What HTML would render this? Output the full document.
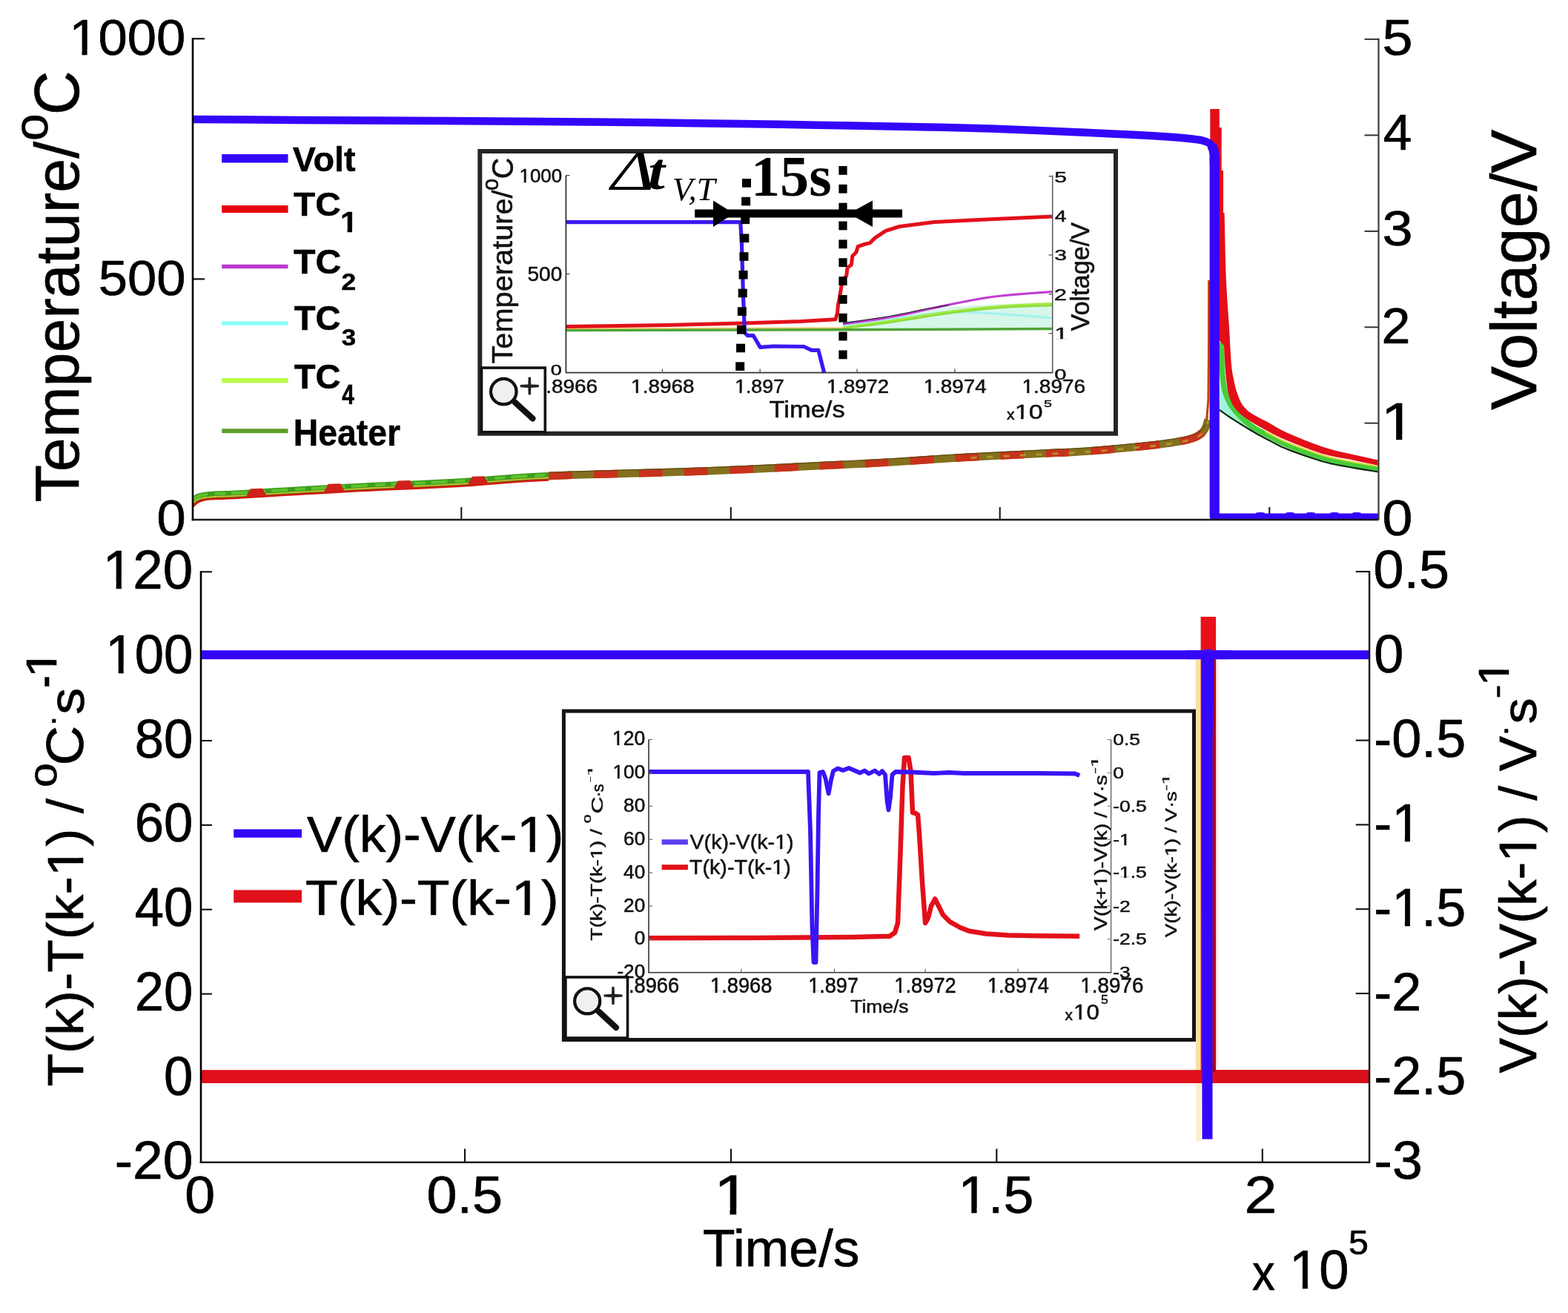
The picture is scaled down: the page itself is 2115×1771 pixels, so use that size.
<!DOCTYPE html>
<html><head><meta charset="utf-8"><title>Plot</title><style>html,body{margin:0;padding:0;background:#fff;overflow:hidden}svg{display:block}</style></head><body>
<svg xmlns="http://www.w3.org/2000/svg" width="2115" height="1771" viewBox="0 0 2115 1771">
<rect x="0" y="0" width="2115" height="1771" fill="#fff"/>
<line x1="260" y1="52.2" x2="276" y2="52.2" stroke="#111" stroke-width="2.2"/>
<line x1="260" y1="376.4" x2="276" y2="376.4" stroke="#111" stroke-width="2.2"/>
<line x1="1840.5" y1="52.9" x2="1859.5" y2="52.9" stroke="#333" stroke-width="2"/>
<line x1="1840.5" y1="182.4" x2="1859.5" y2="182.4" stroke="#333" stroke-width="2"/>
<line x1="1840.5" y1="311.9" x2="1859.5" y2="311.9" stroke="#333" stroke-width="2"/>
<line x1="1840.5" y1="441.3" x2="1859.5" y2="441.3" stroke="#333" stroke-width="2"/>
<line x1="1840.5" y1="570.7" x2="1859.5" y2="570.7" stroke="#333" stroke-width="2"/>
<line x1="622.3" y1="684" x2="622.3" y2="701" stroke="#111" stroke-width="2"/>
<line x1="985.8" y1="684" x2="985.8" y2="701" stroke="#111" stroke-width="2"/>
<line x1="1348.7" y1="684" x2="1348.7" y2="701" stroke="#111" stroke-width="2"/>
<line x1="1712.3" y1="684" x2="1712.3" y2="701" stroke="#111" stroke-width="2"/>
<line x1="271" y1="771.3" x2="286" y2="771.3" stroke="#111" stroke-width="2.1"/>
<line x1="271" y1="885.16" x2="286" y2="885.16" stroke="#111" stroke-width="2.1"/>
<line x1="271" y1="999.02" x2="286" y2="999.02" stroke="#111" stroke-width="2.1"/>
<line x1="271" y1="1112.88" x2="286" y2="1112.88" stroke="#111" stroke-width="2.1"/>
<line x1="271" y1="1226.74" x2="286" y2="1226.74" stroke="#111" stroke-width="2.1"/>
<line x1="271" y1="1340.6" x2="286" y2="1340.6" stroke="#111" stroke-width="2.1"/>
<line x1="271" y1="1454.46" x2="286" y2="1454.46" stroke="#111" stroke-width="2.1"/>
<line x1="1828.7" y1="771" x2="1847.1" y2="771" stroke="#111" stroke-width="2.1"/>
<line x1="1828.7" y1="884.8" x2="1847.1" y2="884.8" stroke="#111" stroke-width="2.1"/>
<line x1="1828.7" y1="998.6" x2="1847.1" y2="998.6" stroke="#111" stroke-width="2.1"/>
<line x1="1828.7" y1="1112.4" x2="1847.1" y2="1112.4" stroke="#111" stroke-width="2.1"/>
<line x1="1828.7" y1="1226.2" x2="1847.1" y2="1226.2" stroke="#111" stroke-width="2.1"/>
<line x1="1828.7" y1="1340" x2="1847.1" y2="1340" stroke="#111" stroke-width="2.1"/>
<line x1="1828.7" y1="1453.8" x2="1847.1" y2="1453.8" stroke="#111" stroke-width="2.1"/>
<line x1="627" y1="1549.5" x2="627" y2="1567.8" stroke="#111" stroke-width="2.1"/>
<line x1="986" y1="1549.5" x2="986" y2="1567.8" stroke="#111" stroke-width="2.1"/>
<line x1="1344.3" y1="1549.5" x2="1344.3" y2="1567.8" stroke="#111" stroke-width="2.1"/>
<line x1="1702.8" y1="1549.5" x2="1702.8" y2="1567.8" stroke="#111" stroke-width="2.1"/>
<clipPath id="cpTop"><rect x="260.5" y="0" width="1598" height="700"/></clipPath>
<g clip-path="url(#cpTop)">
<polyline points="260,682 260.62,681.41 261.44,680.59 262.44,679.61 263.56,678.59 264.76,677.62 266,676.78 267.26,676.09 268.56,675.45 269.94,674.87 271.44,674.31 273.12,673.76 275,673.2 277.01,672.89 279.11,672.61 281.38,672.36 283.89,672.13 286.74,671.91 290,671.7 293.16,671.55 296.04,671.48 299.25,671.42 303.41,671.31 309.12,671.09 317,670.7 327.4,670.1 339.89,669.35 353.94,668.48 369,667.55 384.53,666.61 400,665.7 415.49,664.81 431.44,663.9 447.88,662.98 464.78,662.05 482.15,661.12 500,660.2 518.45,659.32 537.52,658.48 557.06,657.64 576.93,656.76 596.96,655.79 617,654.7 636.15,653.43 654.33,652.01 672.69,650.51 692.33,649 714.4,647.54 740,646.2" fill="none" stroke="#d01a10" stroke-width="5" stroke-linejoin="round" stroke-linecap="butt"/>
<polyline points="260,675.5 260.62,674.99 261.44,674.26 262.44,673.41 263.56,672.52 264.76,671.69 266,671 267.26,670.46 268.56,669.98 269.94,669.56 271.44,669.19 273.12,668.84 275,668.5 277.01,668.19 279.11,667.91 281.38,667.66 283.89,667.43 286.74,667.21 290,667 293.16,666.85 296.04,666.78 299.25,666.72 303.41,666.61 309.12,666.39 317,666 327.4,665.4 339.89,664.65 353.94,663.78 369,662.85 384.53,661.91 400,661 415.49,660.11 431.44,659.2 447.88,658.28 464.78,657.35 482.15,656.42 500,655.5 518.45,654.62 537.52,653.78 557.06,652.94 576.93,652.06 596.96,651.09 617,650 636.15,648.73 654.33,647.31 672.69,645.81 692.33,644.3 714.4,642.84 740,641.5" fill="none" stroke="#3d9c1e" stroke-width="9" stroke-linejoin="round" stroke-linecap="butt"/>
<polyline points="260,674.5 260.62,673.99 261.44,673.26 262.44,672.41 263.56,671.52 264.76,670.69 266,670 267.26,669.46 268.56,668.98 269.94,668.56 271.44,668.19 273.12,667.84 275,667.5 277.01,667.19 279.11,666.91 281.38,666.66 283.89,666.43 286.74,666.21 290,666 293.16,665.85 296.04,665.78 299.25,665.72 303.41,665.61 309.12,665.39 317,665 327.4,664.4 339.89,663.65 353.94,662.78 369,661.85 384.53,660.91 400,660 415.49,659.11 431.44,658.2 447.88,657.28 464.78,656.35 482.15,655.42 500,654.5 518.45,653.62 537.52,652.78 557.06,651.94 576.93,651.06 596.96,650.09 617,649 636.15,647.73 654.33,646.31 672.69,644.81 692.33,643.3 714.4,641.84 740,640.5" fill="none" stroke="#5cc22c" stroke-width="4" stroke-linejoin="round" stroke-linecap="butt" stroke-dasharray="22 10 14 8"/>
<polyline points="260,678.4 260.62,677.89 261.44,677.16 262.44,676.31 263.56,675.42 264.76,674.59 266,673.9 267.26,673.36 268.56,672.88 269.94,672.46 271.44,672.09 273.12,671.74 275,671.4 277.01,671.09 279.11,670.81 281.38,670.56 283.89,670.33 286.74,670.11 290,669.9 293.16,669.75 296.04,669.68 299.25,669.62 303.41,669.51 309.12,669.29 317,668.9 327.4,668.3 339.89,667.55 353.94,666.68 369,665.75 384.53,664.81 400,663.9 415.49,663.01 431.44,662.1 447.88,661.18 464.78,660.25 482.15,659.32 500,658.4 518.45,657.52 537.52,656.68 557.06,655.84 576.93,654.96 596.96,653.99 617,652.9 636.15,651.63 654.33,650.21 672.69,648.71 692.33,647.2 714.4,645.74 740,644.4" fill="none" stroke="#d8c030" stroke-width="1.6" stroke-linejoin="round" stroke-linecap="butt"/>
<polygon points="332,669.78 338,659.28 354,658.78 360,669.28" fill="#d0201a"/>
<polygon points="437,663.35 443,652.85 459,652.35 465,662.85" fill="#d0201a"/>
<polygon points="531,658.94 537,648.44 553,647.94 559,658.44" fill="#d0201a"/>
<polygon points="631,653.31 637,642.81 653,642.31 659,652.81" fill="#d0201a"/>
<polyline points="740,642 770.66,640.81 805.78,639.7 843.31,638.66 881.22,637.63 917.47,636.59 950,635.5 979.05,634.34 1006.3,633.13 1031.88,631.91 1055.93,630.7 1078.59,629.56 1100,628.5 1119.65,627.56 1137.33,626.72 1153.62,625.94 1169.11,625.17 1184.38,624.37 1200,623.5 1215.61,622.55 1230.67,621.56 1245.5,620.53 1260.44,619.5 1275.83,618.48 1292,617.5 1309.54,616.53 1328.3,615.56 1347.5,614.59 1366.37,613.67 1384.13,612.8 1400,612 1413.49,611.35 1425.11,610.83 1435.62,610.38 1445.78,609.89 1456.32,609.29 1468,608.5 1481.34,607.46 1495.85,606.22 1510.75,604.88 1525.26,603.5 1538.6,602.18 1550,601 1559.34,599.96 1567.22,598.98 1573.94,598.06 1579.78,597.19 1585.03,596.34 1590,595.5 1594.47,594.71 1598.19,593.98 1601.31,593.28 1604.04,592.57 1606.54,591.83 1609,591 1611.35,590.11 1613.44,589.19 1615.31,588.22 1617,587.2 1618.55,586.13 1620,585 1621.32,583.82 1622.46,582.59 1623.47,581.31 1624.37,579.96 1625.2,578.53 1626,577 1626.77,575.21 1627.48,573.15 1628.12,571 1628.69,568.96 1629.15,567.23 1629.5,566" fill="none" stroke="#85701e" stroke-width="10.5" stroke-linejoin="round" stroke-linecap="butt"/>
<polyline points="740,642 770.66,640.81 805.78,639.7 843.31,638.66 881.22,637.63 917.47,636.59 950,635.5 979.05,634.34 1006.3,633.13 1031.88,631.91 1055.93,630.7 1078.59,629.56 1100,628.5 1119.65,627.56 1137.33,626.72 1153.62,625.94 1169.11,625.17 1184.38,624.37 1200,623.5 1215.61,622.55 1230.67,621.56 1245.5,620.53 1260.44,619.5 1275.83,618.48 1292,617.5 1309.54,616.53 1328.3,615.56 1347.5,614.59 1366.37,613.67 1384.13,612.8 1400,612 1413.49,611.35 1425.11,610.83 1435.62,610.38 1445.78,609.89 1456.32,609.29 1468,608.5 1481.34,607.46 1495.85,606.22 1510.75,604.88 1525.26,603.5 1538.6,602.18 1550,601 1559.34,599.96 1567.22,598.98 1573.94,598.06 1579.78,597.19 1585.03,596.34 1590,595.5 1594.47,594.71 1598.19,593.98 1601.31,593.28 1604.04,592.57 1606.54,591.83 1609,591 1611.35,590.11 1613.44,589.19 1615.31,588.22 1617,587.2 1618.55,586.13 1620,585 1621.32,583.82 1622.46,582.59 1623.47,581.31 1624.37,579.96 1625.2,578.53 1626,577 1626.77,575.21 1627.48,573.15 1628.12,571 1628.69,568.96 1629.15,567.23 1629.5,566" fill="none" stroke="#c8321c" stroke-width="10.5" stroke-linejoin="round" stroke-linecap="butt" stroke-dasharray="32 29"/>
<polyline points="740,637.4 770.66,636.21 805.78,635.1 843.31,634.06 881.22,633.03 917.47,631.99 950,630.9 979.05,629.74 1006.3,628.53 1031.88,627.31 1055.93,626.1 1078.59,624.96 1100,623.9 1119.65,622.96 1137.33,622.12 1153.62,621.34 1169.11,620.57 1184.38,619.77 1200,618.9 1215.61,617.95 1230.67,616.96 1245.5,615.93 1260.44,614.9 1275.83,613.88 1292,612.9 1309.54,611.93 1328.3,610.96 1347.5,609.99 1366.37,609.07 1384.13,608.2 1400,607.4 1413.49,606.75 1425.11,606.23 1435.62,605.77 1445.78,605.29 1456.32,604.69 1468,603.9 1481.34,602.86 1495.85,601.62 1510.75,600.27 1525.26,598.9 1538.6,597.58 1550,596.4 1559.34,595.36 1567.22,594.38 1573.94,593.46 1579.78,592.59 1585.03,591.74 1590,590.9 1594.47,590.11 1598.19,589.38 1601.31,588.68 1604.04,587.97 1606.54,587.23 1609,586.4 1611.35,585.51 1613.44,584.59 1615.31,583.62 1617,582.6 1618.55,581.53 1620,580.4 1621.32,579.22 1622.46,577.99 1623.47,576.71 1624.37,575.36 1625.2,573.93 1626,572.4 1626.77,570.61 1627.48,568.55 1628.12,566.4 1628.69,564.36 1629.15,562.63 1629.5,561.4" fill="none" stroke="#5a4a10" stroke-width="1.4" stroke-linejoin="round" stroke-linecap="butt" opacity="0.8"/>
<polyline points="1309.54,617.53 1328.3,616.56 1347.5,615.59 1366.37,614.67 1384.13,613.8 1400,613 1413.49,612.35 1425.11,611.83 1435.62,611.38 1445.78,610.89 1456.32,610.29 1468,609.5 1481.34,608.46 1495.85,607.22 1510.75,605.88 1525.26,604.5 1538.6,603.18 1550,602 1559.34,600.96 1567.22,599.98 1573.94,599.06 1579.78,598.19 1585.03,597.34 1590,596.5 1594.47,595.71 1598.19,594.98 1601.31,594.28 1604.04,593.57 1606.54,592.83 1609,592 1611.35,591.11 1613.44,590.19 1615.31,589.22 1617,588.2 1618.55,587.13 1620,586 1621.32,584.82 1622.46,583.59 1623.47,582.31 1624.37,580.96 1625.2,579.53 1626,578 1626.77,576.21 1627.48,574.15 1628.12,572 1628.69,569.96 1629.15,568.23 1629.5,567" fill="none" stroke="#b8a030" stroke-width="3" stroke-linejoin="round" stroke-linecap="butt" stroke-dasharray="8 14" opacity="0.8"/>
</g>
<polyline points="1627.5,567 1629.8,540 1630.4,480 1630.6,378" fill="none" stroke="#c2410e" stroke-width="3" stroke-linejoin="round" stroke-linecap="butt"/>
<defs><linearGradient id="mg" x1="0" y1="0" x2="1" y2="0"><stop offset="0" stop-color="#a6f4ee"/><stop offset="1" stop-color="#80ec90"/></linearGradient></defs>
<polygon points="1647.5,462 1647.63,469.16 1647.81,479.5 1648.09,490.59 1648.5,500 1649.03,507.12 1649.66,513.25 1650.46,518.75 1651.5,524 1652.8,529.02 1654.31,533.62 1656.05,537.92 1658,542 1660.02,545.68 1662.17,548.97 1664.73,552.28 1668,556 1672.16,560.43 1677.01,565.28 1682.31,570.12 1687.8,574.5 1693.55,578.27 1699.66,581.67 1694.12,584.43 1687.8,580.8 1680.8,576.6 1673.32,571.98 1666.13,567.44 1660,563.5 1655,560.15 1650.76,557.17 1647.4,554.73 1645,553" fill="url(#mg)"/>
<polyline points="1647.5,462 1647.63,469.16 1647.81,479.5 1648.09,490.59 1648.5,500 1649.03,507.12 1649.66,513.25 1650.46,518.75 1651.5,524 1652.8,529.02 1654.31,533.62 1656.05,537.92 1658,542 1660.02,545.68 1662.17,548.97 1664.73,552.28 1668,556 1672.16,560.43 1677.01,565.28 1682.31,570.12 1687.8,574.5 1693.55,578.27 1699.66,581.67 1705.89,584.86 1712,588 1717.37,590.94 1722.33,593.66 1728.01,596.5 1735.6,599.8 1746.11,603.97 1758.69,608.72 1771.67,613.36 1783.4,617.2 1793.29,619.95 1802.28,622.02 1810.97,623.75 1820,625.5 1830.41,627.44 1841.59,629.37 1851.62,631.03 1858.6,632.2" fill="none" stroke="#46cc3a" stroke-width="7.5" stroke-linejoin="round" stroke-linecap="butt"/>
<polyline points="1705.89,581.66 1712,584.8 1717.37,587.74 1722.33,590.46 1728.01,593.3 1735.6,596.6 1746.11,600.77 1758.69,605.52 1771.67,610.16 1783.4,614 1793.29,616.75 1802.28,618.82 1810.97,620.55 1820,622.3 1830.41,624.24 1841.59,626.17 1851.62,627.83 1858.6,629" fill="none" stroke="#d8d83a" stroke-width="2" stroke-linejoin="round" stroke-linecap="butt"/>
<polyline points="1645,553 1647.4,554.73 1650.76,557.17 1655,560.15 1660,563.5 1666.13,567.44 1673.32,571.98 1680.8,576.6 1687.8,580.8 1694.12,584.43 1700.16,587.76 1706.08,590.91 1712,594 1717.37,596.9 1722.33,599.59 1728.01,602.39 1735.6,605.6 1746.11,609.6 1758.69,614.14 1771.67,618.55 1783.4,622.2 1793.29,624.8 1802.28,626.74 1810.97,628.35 1820,630 1830.41,631.85 1841.59,633.69 1851.62,635.28 1858.6,636.4" fill="none" stroke="#0c2a0c" stroke-width="2.2" stroke-linejoin="round" stroke-linecap="butt"/>
<polygon points="1632.3,147 1644.8,147 1644.8,172 1647.7,172 1647.7,230 1650,230 1650,287 1651.6,287 1651.6,287 1651.88,300.94 1652.29,321.12 1652.75,342.5 1653.2,360 1653.61,371.82 1654.01,380.81 1654.46,388.9 1655,398 1655.7,408.95 1656.52,420.62 1657.33,431.98 1658,442 1658.47,450.16 1658.82,457.09 1659.13,463.48 1659.5,470 1659.92,476.94 1660.35,483.91 1660.83,490.54 1661.4,496.5 1662.08,501.59 1662.85,506.03 1663.67,510.08 1664.5,514 1665.29,517.72 1666.07,521.16 1666.94,524.51 1668,528 1669.28,531.8 1670.72,535.75 1672.3,539.58 1674,543 1675.81,545.92 1677.75,548.5 1679.81,550.83 1682,553 1684.12,554.88 1686.25,556.47 1688.75,558.07 1692,560 1696.21,562.32 1701.15,564.88 1706.51,567.62 1712,570.5 1717.08,573.41 1722.06,576.41 1727.91,579.68 1735.6,583.4 1746.11,587.96 1758.69,593.16 1771.67,598.25 1783.4,602.5 1793.29,605.58 1802.28,607.92 1810.97,609.93 1820,612 1830.41,614.37 1841.59,616.79 1851.62,618.92 1858.6,620.4 1858.6,627.8 1851.62,626.31 1841.59,624.17 1830.41,621.8 1820,619.6 1810.97,617.9 1802.28,616.41 1793.29,614.61 1783.4,612 1771.67,608.1 1758.69,603.3 1746.11,598.37 1735.6,594.1 1728.01,590.8 1722.33,588.03 1717.37,585.39 1712,582.5 1705.75,579.18 1699.29,575.65 1693.13,572.17 1687.8,569 1683.53,566.28 1680.01,563.84 1676.94,561.49 1674,559 1671.15,556.41 1668.54,553.81 1666.16,551.05 1664,548 1662.06,544.67 1660.34,541.12 1658.83,537.27 1657.5,533 1656.37,528.2 1655.46,522.94 1654.69,517.46 1654,512 1653.42,506.62 1652.96,501.19 1652.57,495.66 1652.2,490 1651.83,483.58 1651.49,476.62 1651.2,470.36 1651,466 1645,460 1640,455 1640,205 1632.3,205" fill="#e20e18"/>
<polyline points="260,161 320,161.37 406.67,161.91 500,162.5 599.26,163.11 705.19,163.78 800,164.5 875.93,165.3 940.74,166.15 1000,167 1053.7,167.81 1101.85,168.63 1150,169.5 1201.85,170.44 1253.7,171.44 1300,172.5 1337.04,173.59 1368.52,174.74 1400,176 1434.81,177.48 1469.63,179.07 1500,180.5 1523.7,181.61 1542.96,182.56 1560,183.5 1575.56,184.52 1588.89,185.54 1600,186.5 1608.89,187.46 1615.56,188.37 1620,189 1626,190.8 1631,193 1634.5,196.5 1637,202 1638.1,210 1638.2,222" fill="none" stroke="#3406fa" stroke-width="10.5" stroke-linejoin="round" stroke-linecap="butt"/>
<polyline points="1634.5,196.5 1637,202 1638.1,210 1638.2,222" fill="none" stroke="#3406fa" stroke-width="13" stroke-linejoin="round" stroke-linecap="butt"/>
<rect x="1631.6" y="212" width="13.2" height="485" fill="#3406fa"/>
<rect x="1632" y="692.5" width="227" height="8.5" fill="#3406fa"/>
<ellipse cx="1700" cy="692.5" rx="6" ry="1.6" fill="#3406fa"/>
<ellipse cx="1740" cy="692.5" rx="6" ry="1.6" fill="#3406fa"/>
<ellipse cx="1768" cy="692.5" rx="6" ry="1.6" fill="#3406fa"/>
<ellipse cx="1800" cy="692.5" rx="6" ry="1.6" fill="#3406fa"/>
<ellipse cx="1830" cy="692.5" rx="6" ry="1.6" fill="#3406fa"/>
<line x1="260" y1="51" x2="260" y2="702.2" stroke="#000" stroke-width="2.6"/>
<line x1="258.7" y1="701" x2="1859.5" y2="701" stroke="#1a1a1a" stroke-width="2.4"/>
<line x1="1859.5" y1="51.6" x2="1859.5" y2="701" stroke="#3a3a3a" stroke-width="2.2"/>
<line x1="299.2" y1="213.8" x2="388.5" y2="213.8" stroke="#3406fa" stroke-width="11.6"/>
<line x1="299.2" y1="282" x2="388.5" y2="282" stroke="#e6000e" stroke-width="10"/>
<line x1="299.2" y1="359.5" x2="388.5" y2="359.5" stroke="#bb3ad0" stroke-width="5.5"/>
<line x1="299.2" y1="436" x2="388.5" y2="436" stroke="#88fcf8" stroke-width="5.5"/>
<line x1="299.2" y1="513.3" x2="388.5" y2="513.3" stroke="#b8fc48" stroke-width="6.5"/>
<line x1="299.2" y1="581.3" x2="388.5" y2="581.3" stroke="#5c9e2a" stroke-width="6"/>
<rect x="647.3" y="204" width="857.7" height="380.8" fill="#fff" stroke="#262626" stroke-width="6"/>
<polygon points="1137,437 1200,428 1280,414 1350,410 1419.7,408 1419.7,442 1137,443" fill="#d6f7ea"/>
<polyline points="763.4,443.2 1137,442.2" fill="none" stroke="#f4c050" stroke-width="1.6" stroke-linejoin="round" stroke-linecap="butt"/>
<polyline points="1137,440 1147.92,438.41 1163.5,436.12 1181.58,433.53 1200,431 1219.04,428.28 1239.56,425.28 1260.3,422.64 1280,421 1298.21,420.68 1315.64,421.28 1332.76,422.37 1350,423.5 1369.08,424.79 1389.22,426.41 1407.18,427.94 1419.7,429" fill="none" stroke="#a6f2f0" stroke-width="3.2" stroke-linejoin="round" stroke-linecap="butt"/>
<polyline points="1137,442 1147.92,440.46 1163.5,438.28 1181.58,435.71 1200,433 1219.04,430 1239.56,426.66 1260.3,423.36 1280,420.5 1298.21,418.18 1315.64,416.19 1332.76,414.48 1350,413 1369.08,411.76 1389.22,410.78 1407.18,410.04 1419.7,409.5" fill="none" stroke="#a6ea40" stroke-width="3" stroke-linejoin="round" stroke-linecap="butt"/>
<polyline points="1137,443 1147.92,441.67 1163.5,439.78 1181.58,437.5 1200,435 1219.04,432.07 1239.56,428.72 1260.3,425.38 1280,422.5 1298.21,420.17 1315.64,418.16 1332.76,416.44 1350,415 1369.08,413.86 1389.22,413.03 1407.18,412.43 1419.7,412" fill="none" stroke="#8cdc3c" stroke-width="2.5" stroke-linejoin="round" stroke-linecap="butt"/>
<polyline points="1137,437 1148.62,435.42 1165.38,433.16 1183.69,430.57 1200,428 1213.41,425.48 1225.81,422.84 1237.8,420.16 1250,417.5 1262.5,414.82 1275,412.09 1287.5,409.45 1300,407 1312.04,404.77 1323.77,402.69 1336.11,400.77 1350,399 1367.67,397.32 1387.97,395.75 1406.71,394.43 1419.7,393.5" fill="none" stroke="#c23ed2" stroke-width="3.2" stroke-linejoin="round" stroke-linecap="butt"/>
<polyline points="1137,435.8 1148.62,434.15 1165.38,431.78 1183.69,429.09 1200,426.5 1213.88,423.93 1227.06,421.23 1239.21,418.66 1250,416.5 1259.61,414.78 1268.12,413.38 1275.08,412.28 1280,411.5" fill="none" stroke="#222" stroke-width="1.2" stroke-linejoin="round" stroke-linecap="butt"/>
<polyline points="763.4,445.6 1137,444.8 1419.7,443.5" fill="none" stroke="#4ea436" stroke-width="3.4" stroke-linejoin="round" stroke-linecap="butt"/>
<polyline points="763.4,440.6 900,438.5 1000,436 1080,433.6 1127,430.8 1129.5,422 1130.5,410.8 1132,404 1135,386 1136.6,378 1141.8,371.6 1143,361 1148.4,357.2 1149.7,345.4 1154.9,340.2 1157.3,332.3 1166,329.5 1173.6,327.6 1180.6,320.6 1194.6,311.3 1213.3,305.5 1260,299.6 1330,296.1 1419.7,292" fill="none" stroke="#e2101a" stroke-width="5" stroke-linejoin="round" stroke-linecap="butt"/>
<polyline points="763.4,299.6 998.8,299.6 1000.5,330 1002.5,400 1004.5,448.7 1008.4,452.7 1016.2,452.7 1025.4,468.4 1043.7,467 1084.3,467.5 1094.7,472.3 1103.9,472.3 1111.7,503" fill="none" stroke="#3a18f0" stroke-width="5.2" stroke-linejoin="round" stroke-linecap="butt"/>
<rect x="1001" y="241.1" width="12" height="11.6" fill="#000"/>
<rect x="1000.12" y="265.8" width="12" height="11.6" fill="#000"/>
<rect x="999.24" y="290.5" width="12" height="11.6" fill="#000"/>
<rect x="998.35" y="315.5" width="12" height="11.6" fill="#000"/>
<rect x="997.47" y="340.2" width="12" height="11.6" fill="#000"/>
<rect x="996.59" y="364.9" width="12" height="11.6" fill="#000"/>
<rect x="995.72" y="389.6" width="12" height="11.6" fill="#000"/>
<rect x="994.84" y="414.3" width="12" height="11.6" fill="#000"/>
<rect x="993.96" y="439" width="12" height="11.6" fill="#000"/>
<rect x="993.08" y="463.7" width="12" height="11.6" fill="#000"/>
<rect x="992.2" y="488.4" width="12" height="11.6" fill="#000"/>
<rect x="1131.4" y="224" width="11.2" height="11.8" fill="#000"/>
<rect x="1131.4" y="248.85" width="11.2" height="11.8" fill="#000"/>
<rect x="1131.4" y="273.7" width="11.2" height="11.8" fill="#000"/>
<rect x="1131.4" y="298.55" width="11.2" height="11.8" fill="#000"/>
<rect x="1131.4" y="323.4" width="11.2" height="11.8" fill="#000"/>
<rect x="1131.4" y="348.25" width="11.2" height="11.8" fill="#000"/>
<rect x="1131.4" y="373.1" width="11.2" height="11.8" fill="#000"/>
<rect x="1131.4" y="397.95" width="11.2" height="11.8" fill="#000"/>
<rect x="1131.4" y="422.8" width="11.2" height="11.8" fill="#000"/>
<rect x="1131.4" y="447.65" width="11.2" height="11.8" fill="#000"/>
<rect x="1131.4" y="472.5" width="11.2" height="11.8" fill="#000"/>
<line x1="937.2" y1="288" x2="1217" y2="288" stroke="#000" stroke-width="11"/>
<polygon points="962,270.5 990,288 962,306" fill="#000"/>
<polygon points="1177,270.5 1145,288 1177,306" fill="#000"/>
<line x1="763.4" y1="236.6" x2="763.4" y2="503.2" stroke="#222" stroke-width="1.6"/>
<line x1="763.4" y1="502.6" x2="1420.3" y2="502.6" stroke="#333" stroke-width="1.6"/>
<line x1="1419.7" y1="236.6" x2="1419.7" y2="503" stroke="#555" stroke-width="1.5"/>
<line x1="763.4" y1="236.6" x2="768.5" y2="236.6" stroke="#444" stroke-width="1.3"/>
<line x1="763.4" y1="369.5" x2="768.5" y2="369.5" stroke="#444" stroke-width="1.3"/>
<line x1="1414.5" y1="237.8" x2="1419.7" y2="237.8" stroke="#555" stroke-width="1.3"/>
<line x1="1414.5" y1="291" x2="1419.7" y2="291" stroke="#555" stroke-width="1.3"/>
<line x1="1414.5" y1="344" x2="1419.7" y2="344" stroke="#555" stroke-width="1.3"/>
<line x1="1414.5" y1="396.9" x2="1419.7" y2="396.9" stroke="#555" stroke-width="1.3"/>
<line x1="1414.5" y1="449.7" x2="1419.7" y2="449.7" stroke="#555" stroke-width="1.3"/>
<line x1="893.5" y1="497.5" x2="893.5" y2="502.6" stroke="#555" stroke-width="1.3"/>
<line x1="1025.2" y1="497.5" x2="1025.2" y2="502.6" stroke="#555" stroke-width="1.3"/>
<line x1="1156.1" y1="497.5" x2="1156.1" y2="502.6" stroke="#555" stroke-width="1.3"/>
<line x1="1287.9" y1="497.5" x2="1287.9" y2="502.6" stroke="#555" stroke-width="1.3"/>
<rect x="1612.8" y="890" width="7.2" height="555" fill="#f7e2a2"/>
<rect x="1612.8" y="1445" width="7.2" height="95" fill="#fbf0d0"/>
<rect x="1640" y="890" width="3" height="550" fill="#fbe6e2"/>
<rect x="271" y="1443.2" width="1576" height="17.8" fill="#e0101a"/>
<rect x="1640" y="1443.2" width="207" height="17.8" fill="#d80f18"/>
<rect x="271" y="877.2" width="1576" height="12" fill="#3406fa"/>
<rect x="1619.6" y="831.9" width="20.5" height="620" fill="#e8101a"/>
<rect x="1634.5" y="890" width="5.5" height="556" fill="#b00818"/>
<rect x="1600" y="877.2" width="60" height="12" fill="#3406fa"/>
<circle cx="1629" cy="885" r="9.8" fill="#3a10f8"/>
<polygon points="1620.2,880 1637.8,880 1635.6,1000 1635.5,1536.6 1621.5,1536.6 1620.6,1000" fill="#3406fa"/>
<line x1="271" y1="770.2" x2="271" y2="1569" stroke="#000" stroke-width="2.6"/>
<line x1="269.8" y1="1567.8" x2="1847.2" y2="1567.8" stroke="#1a1a1a" stroke-width="2.5"/>
<line x1="1847.1" y1="770" x2="1847.1" y2="1569" stroke="#1a1a1a" stroke-width="2.4"/>
<line x1="315.2" y1="1124.1" x2="407" y2="1124.1" stroke="#3406fa" stroke-width="11.2"/>
<line x1="315.2" y1="1209" x2="407" y2="1209" stroke="#e0101a" stroke-width="17.2"/>
<rect x="760.4" y="959.1" width="850.1" height="443.4" fill="#fff" stroke="#141414" stroke-width="5"/>
<polyline points="875,1265.3 1000,1265 1150,1264 1200,1262.7 1207,1258 1211,1245 1214.5,1150 1217.5,1060 1220,1022 1225.5,1022 1228.5,1040 1231,1096 1235,1097 1238,1099 1240,1125 1244,1190 1248.1,1245 1252,1238 1256,1222 1261.2,1212.5 1266,1222 1272,1234 1280.9,1243.1 1295,1251 1307,1255.8 1330,1259.5 1359.4,1261.4 1400,1262.2 1456.2,1262.7" fill="none" stroke="#e2101a" stroke-width="6.5" stroke-linejoin="round" stroke-linecap="butt"/>
<polyline points="875,1041 1090,1041 1093,1120 1095.5,1250 1097.5,1298 1100.5,1298 1102.5,1200 1104,1100 1105.5,1042 1110,1041 1113.5,1050 1117.6,1070.4 1121,1052 1124,1040 1130,1036.5 1137,1039 1145,1036 1152,1039 1160,1042.5 1166,1039.5 1172,1043.5 1180,1039.5 1186,1044 1190,1040 1194,1045 1196.5,1080 1198.5,1092.5 1201,1075 1203.5,1045 1208,1041 1230,1041.5 1260,1043 1280,1042 1300,1043 1400,1043 1450,1043.5 1456.2,1046" fill="none" stroke="#3a14f4" stroke-width="5.8" stroke-linejoin="round" stroke-linecap="butt"/>
<line x1="875" y1="997.6" x2="875" y2="1312.4" stroke="#333" stroke-width="1.6"/>
<line x1="875" y1="1311.7" x2="1499.2" y2="1311.7" stroke="#333" stroke-width="1.6"/>
<line x1="1498.6" y1="997.6" x2="1498.6" y2="1312.4" stroke="#666" stroke-width="1.4"/>
<line x1="875" y1="997.6" x2="880" y2="997.6" stroke="#666" stroke-width="1.2"/>
<line x1="1493.6" y1="997.6" x2="1498.6" y2="997.6" stroke="#888" stroke-width="1.2"/>
<line x1="875" y1="1042.47" x2="880" y2="1042.47" stroke="#666" stroke-width="1.2"/>
<line x1="1493.6" y1="1042.47" x2="1498.6" y2="1042.47" stroke="#888" stroke-width="1.2"/>
<line x1="875" y1="1087.34" x2="880" y2="1087.34" stroke="#666" stroke-width="1.2"/>
<line x1="1493.6" y1="1087.34" x2="1498.6" y2="1087.34" stroke="#888" stroke-width="1.2"/>
<line x1="875" y1="1132.21" x2="880" y2="1132.21" stroke="#666" stroke-width="1.2"/>
<line x1="1493.6" y1="1132.21" x2="1498.6" y2="1132.21" stroke="#888" stroke-width="1.2"/>
<line x1="875" y1="1177.08" x2="880" y2="1177.08" stroke="#666" stroke-width="1.2"/>
<line x1="1493.6" y1="1177.08" x2="1498.6" y2="1177.08" stroke="#888" stroke-width="1.2"/>
<line x1="875" y1="1221.95" x2="880" y2="1221.95" stroke="#666" stroke-width="1.2"/>
<line x1="1493.6" y1="1221.95" x2="1498.6" y2="1221.95" stroke="#888" stroke-width="1.2"/>
<line x1="875" y1="1266.82" x2="880" y2="1266.82" stroke="#666" stroke-width="1.2"/>
<line x1="1493.6" y1="1266.82" x2="1498.6" y2="1266.82" stroke="#888" stroke-width="1.2"/>
<line x1="999.9" y1="1306.7" x2="999.9" y2="1311.7" stroke="#666" stroke-width="1.2"/>
<line x1="1125.5" y1="1306.7" x2="1125.5" y2="1311.7" stroke="#666" stroke-width="1.2"/>
<line x1="1248.1" y1="1306.7" x2="1248.1" y2="1311.7" stroke="#666" stroke-width="1.2"/>
<line x1="1373.2" y1="1306.7" x2="1373.2" y2="1311.7" stroke="#666" stroke-width="1.2"/>
<line x1="892.6" y1="1135.8" x2="927.9" y2="1135.8" stroke="#5a40f0" stroke-width="7"/>
<line x1="892.6" y1="1169.8" x2="927.9" y2="1169.8" stroke="#e2101a" stroke-width="7"/>
<text transform="translate(394.7 231.29) scale(0.4675 0.4573)" font-family="Liberation Sans, sans-serif" font-size="100" font-weight="bold" fill="#000" stroke="#000" stroke-width="1.08" stroke-linejoin="round">Volt</text>
<text transform="translate(396 290.6) scale(0.4779 0.4466)" font-family="Liberation Sans, sans-serif" font-size="100" font-weight="bold" fill="#000" stroke="#000" stroke-width="1.08" stroke-linejoin="round">TC</text>
<clipPath id="f1c1" clipPathUnits="userSpaceOnUse"><path clip-rule="evenodd" d="M-500 -500H5000V500H-500Z M3.69 -12.81H22.64V4.61H3.69Z M37.66 -12.81H55.31V4.61H37.66Z"/></clipPath>
<text transform="translate(458.9 312.6) scale(0.4272 0.3883)" font-family="Liberation Sans, sans-serif" font-size="100" font-weight="bold" fill="#000" stroke="#000" stroke-width="1.23" stroke-linejoin="round" clip-path="url(#f1c1)">1</text>
<text transform="translate(396 369.08) scale(0.4833 0.4633)" font-family="Liberation Sans, sans-serif" font-size="100" font-weight="bold" fill="#000" stroke="#000" stroke-width="1.06" stroke-linejoin="round">TC</text>
<text transform="translate(460.49 391) scale(0.3540 0.3129)" font-family="Liberation Sans, sans-serif" font-size="100" font-weight="bold" fill="#000" stroke="#000" stroke-width="1.5" stroke-linejoin="round">2</text>
<text transform="translate(396.7 445.28) scale(0.4719 0.4633)" font-family="Liberation Sans, sans-serif" font-size="100" font-weight="bold" fill="#000" stroke="#000" stroke-width="1.07" stroke-linejoin="round">TC</text>
<text transform="translate(460.75 466.21) scale(0.3491 0.3158)" font-family="Liberation Sans, sans-serif" font-size="100" font-weight="bold" fill="#000" stroke="#000" stroke-width="1.5" stroke-linejoin="round">3</text>
<text transform="translate(396.7 523.97) scale(0.4719 0.4647)" font-family="Liberation Sans, sans-serif" font-size="100" font-weight="bold" fill="#000" stroke="#000" stroke-width="1.07" stroke-linejoin="round">TC</text>
<text transform="translate(461.3 544.7) scale(0.2969 0.3612)" font-family="Liberation Sans, sans-serif" font-size="100" font-weight="bold" fill="#000" stroke="#000" stroke-width="1.52" stroke-linejoin="round">4</text>
<text transform="translate(395.81 601.23) scale(0.4631 0.4911)" font-family="Liberation Sans, sans-serif" font-size="100" font-weight="bold" fill="#000" stroke="#000" stroke-width="1.05" stroke-linejoin="round">Heater</text>
<clipPath id="f1c2" clipPathUnits="userSpaceOnUse"><path clip-rule="evenodd" d="M-500 -500H5000V500H-500Z M5 -10.2H24.55V4.5H5Z M34.45 -10.2H53.2V4.5H34.45Z"/></clipPath>
<text transform="translate(93.22 73.74) scale(0.7064 0.6803)" font-family="Liberation Sans, sans-serif" font-size="100" fill="#000" stroke="#000" stroke-width="1.01" stroke-linejoin="round" clip-path="url(#f1c2)">1000</text>
<text transform="translate(132.8 397.66) scale(0.7052 0.6650)" font-family="Liberation Sans, sans-serif" font-size="100" fill="#000" stroke="#000" stroke-width="1.02" stroke-linejoin="round">500</text>
<text transform="translate(211.4 721.84) scale(0.7040 0.6762)" font-family="Liberation Sans, sans-serif" font-size="100" fill="#000" stroke="#000" stroke-width="1.01" stroke-linejoin="round">0</text>
<text transform="translate(1864.59 73.64) scale(0.7391 0.6776)" font-family="Liberation Sans, sans-serif" font-size="100" fill="#000" stroke="#000" stroke-width="0.99" stroke-linejoin="round">5</text>
<text transform="translate(1865.82 202) scale(0.6943 0.6798)" font-family="Liberation Sans, sans-serif" font-size="100" fill="#000" stroke="#000" stroke-width="1.02" stroke-linejoin="round">4</text>
<text transform="translate(1864.59 331.16) scale(0.7391 0.6637)" font-family="Liberation Sans, sans-serif" font-size="100" fill="#000" stroke="#000" stroke-width="1" stroke-linejoin="round">3</text>
<text transform="translate(1863.62 462.5) scale(0.6997 0.6784)" font-family="Liberation Sans, sans-serif" font-size="100" fill="#000" stroke="#000" stroke-width="1.02" stroke-linejoin="round">2</text>
<clipPath id="f1c3" clipPathUnits="userSpaceOnUse"><path clip-rule="evenodd" d="M-500 -500H5000V500H-500Z M5.04 -10.16H24.59V4.46H5.04Z M34.41 -10.16H53.16V4.46H34.41Z"/></clipPath>
<text transform="translate(1862.72 593.2) scale(0.8313 0.7068)" font-family="Liberation Sans, sans-serif" font-size="100" fill="#000" stroke="#000" stroke-width="0.91" stroke-linejoin="round" clip-path="url(#f1c3)">1</text>
<text transform="translate(1864.6 721.94) scale(0.7360 0.6776)" font-family="Liberation Sans, sans-serif" font-size="100" fill="#000" stroke="#000" stroke-width="0.99" stroke-linejoin="round">0</text>
<text transform="translate(106.49 677.59) rotate(-90) scale(0.8263 0.8372)" font-family="Liberation Sans, sans-serif" font-size="100" fill="#000" stroke="#000" stroke-width="0.84" stroke-linejoin="round">Temperature/</text>
<text transform="translate(64.28 190.06) rotate(-90) scale(0.6586 0.6542)" font-family="Liberation Sans, sans-serif" font-size="100" fill="#000" stroke="#000" stroke-width="1.07" stroke-linejoin="round">o</text>
<text transform="translate(106.26 155.06) rotate(-90) scale(0.8242 0.8584)" font-family="Liberation Sans, sans-serif" font-size="100" fill="#000" stroke="#000" stroke-width="0.83" stroke-linejoin="round">C</text>
<text transform="translate(2071.63 553) rotate(-90) scale(0.8838 0.8719)" font-family="Liberation Sans, sans-serif" font-size="100" fill="#000" stroke="#000" stroke-width="0.8" stroke-linejoin="round">Voltage/V</text>
<clipPath id="f1c4" clipPathUnits="userSpaceOnUse"><path clip-rule="evenodd" d="M-500 -500H5000V500H-500Z M4.42 -10.78H23.97V5.08H4.42Z M35.03 -10.78H53.78V5.08H35.03Z"/></clipPath>
<text transform="translate(700.51 245.61) scale(0.2595 0.2504)" font-family="Liberation Sans, sans-serif" font-size="100" fill="#111" stroke="#111" stroke-width="2.16" stroke-linejoin="round" clip-path="url(#f1c4)">1000</text>
<text transform="translate(711.52 378.57) scale(0.2803 0.2727)" font-family="Liberation Sans, sans-serif" font-size="100" fill="#111" stroke="#111" stroke-width="1.99" stroke-linejoin="round">500</text>
<text transform="translate(742.76 506.07) scale(0.2700 0.2087)" font-family="Liberation Sans, sans-serif" font-size="100" fill="#111" stroke="#111" stroke-width="2.3" stroke-linejoin="round">0</text>
<clipPath id="f1c5" clipPathUnits="userSpaceOnUse"><path clip-rule="evenodd" d="M-500 -500H5000V500H-500Z M4.48 -10.72H24.03V5.02H4.48Z M34.97 -10.72H53.72V5.02H34.97Z"/></clipPath>
<text transform="translate(720.62 529.99) scale(0.2793 0.2602)" font-family="Liberation Sans, sans-serif" font-size="100" fill="#111" stroke="#111" stroke-width="2.04" stroke-linejoin="round" clip-path="url(#f1c5)">1.8966</text>
<clipPath id="f1c6" clipPathUnits="userSpaceOnUse"><path clip-rule="evenodd" d="M-500 -500H5000V500H-500Z M4.48 -10.72H24.03V5.02H4.48Z M34.97 -10.72H53.72V5.02H34.97Z"/></clipPath>
<text transform="translate(851.12 529.99) scale(0.2793 0.2602)" font-family="Liberation Sans, sans-serif" font-size="100" fill="#111" stroke="#111" stroke-width="2.04" stroke-linejoin="round" clip-path="url(#f1c6)">1.8968</text>
<clipPath id="f1c7" clipPathUnits="userSpaceOnUse"><path clip-rule="evenodd" d="M-500 -500H5000V500H-500Z M4.46 -10.74H24.01V5.04H4.46Z M34.99 -10.74H53.74V5.04H34.99Z"/></clipPath>
<text transform="translate(991.14 529.99) scale(0.2663 0.2602)" font-family="Liberation Sans, sans-serif" font-size="100" fill="#111" stroke="#111" stroke-width="2.09" stroke-linejoin="round" clip-path="url(#f1c7)">1.897</text>
<clipPath id="f1c8" clipPathUnits="userSpaceOnUse"><path clip-rule="evenodd" d="M-500 -500H5000V500H-500Z M4.47 -10.73H24.02V5.03H4.47Z M34.98 -10.73H53.73V5.03H34.98Z"/></clipPath>
<text transform="translate(1114.96 529.99) scale(0.2751 0.2602)" font-family="Liberation Sans, sans-serif" font-size="100" fill="#111" stroke="#111" stroke-width="2.05" stroke-linejoin="round" clip-path="url(#f1c8)">1.8972</text>
<clipPath id="f1c9" clipPathUnits="userSpaceOnUse"><path clip-rule="evenodd" d="M-500 -500H5000V500H-500Z M4.48 -10.72H24.03V5.02H4.48Z M34.97 -10.72H53.72V5.02H34.97Z"/></clipPath>
<text transform="translate(1245.63 529.99) scale(0.2781 0.2602)" font-family="Liberation Sans, sans-serif" font-size="100" fill="#111" stroke="#111" stroke-width="2.04" stroke-linejoin="round" clip-path="url(#f1c9)">1.8974</text>
<clipPath id="f1c10" clipPathUnits="userSpaceOnUse"><path clip-rule="evenodd" d="M-500 -500H5000V500H-500Z M4.48 -10.72H24.03V5.02H4.48Z M34.97 -10.72H53.72V5.02H34.97Z"/></clipPath>
<text transform="translate(1378.52 529.99) scale(0.2796 0.2602)" font-family="Liberation Sans, sans-serif" font-size="100" fill="#111" stroke="#111" stroke-width="2.04" stroke-linejoin="round" clip-path="url(#f1c10)">1.8976</text>
<text transform="translate(1037.46 562.51) scale(0.3450 0.3107)" font-family="Liberation Sans, sans-serif" font-size="100" fill="#111" stroke="#111" stroke-width="1.68" stroke-linejoin="round">Time/s</text>
<text transform="translate(1357.9 565.6) scale(0.2100 0.1995)" font-family="Liberation Sans, sans-serif" font-size="100" fill="#111" stroke="#111" stroke-width="2.69" stroke-linejoin="round">x</text>
<clipPath id="f1c11" clipPathUnits="userSpaceOnUse"><path clip-rule="evenodd" d="M-500 -500H5000V500H-500Z M4.61 -10.59H24.16V4.89H4.61Z M34.84 -10.59H53.59V4.89H34.84Z"/></clipPath>
<text transform="translate(1368.74 565.17) scale(0.3399 0.2769)" font-family="Liberation Sans, sans-serif" font-size="100" fill="#111" stroke="#111" stroke-width="1.78" stroke-linejoin="round" clip-path="url(#f1c11)">10</text>
<text transform="translate(1407.89 548.79) scale(0.1961 0.1322)" font-family="Liberation Sans, sans-serif" font-size="100" fill="#111" stroke="#111" stroke-width="3.35" stroke-linejoin="round">5</text>
<text transform="translate(1422.26 246.17) scale(0.3014 0.2087)" font-family="Liberation Sans, sans-serif" font-size="100" fill="#111" stroke="#111" stroke-width="2.16" stroke-linejoin="round">5</text>
<text transform="translate(1422.76 299) scale(0.2832 0.2133)" font-family="Liberation Sans, sans-serif" font-size="100" fill="#111" stroke="#111" stroke-width="2.22" stroke-linejoin="round">4</text>
<text transform="translate(1422.26 350.57) scale(0.3014 0.2087)" font-family="Liberation Sans, sans-serif" font-size="100" fill="#111" stroke="#111" stroke-width="2.16" stroke-linejoin="round">3</text>
<text transform="translate(1421.74 405.1) scale(0.3115 0.2133)" font-family="Liberation Sans, sans-serif" font-size="100" fill="#111" stroke="#111" stroke-width="2.1" stroke-linejoin="round">2</text>
<clipPath id="f1c12" clipPathUnits="userSpaceOnUse"><path clip-rule="evenodd" d="M-500 -500H5000V500H-500Z M4.49 -10.71H24.04V5.01H4.49Z M34.96 -10.71H53.71V5.01H34.96Z"/></clipPath>
<text transform="translate(1422.34 456.5) scale(0.3292 0.2133)" font-family="Liberation Sans, sans-serif" font-size="100" fill="#111" stroke="#111" stroke-width="2.03" stroke-linejoin="round" clip-path="url(#f1c12)">1</text>
<text transform="translate(1422.29 512.17) scale(0.2920 0.2087)" font-family="Liberation Sans, sans-serif" font-size="100" fill="#111" stroke="#111" stroke-width="2.2" stroke-linejoin="round">0</text>
<text transform="translate(1469.4 446.6) rotate(-90) scale(0.3430 0.3431)" font-family="Liberation Sans, sans-serif" font-size="100" fill="#111" stroke="#111" stroke-width="1.6" stroke-linejoin="round">Voltage/V</text>
<text transform="translate(691.2 490.52) rotate(-90) scale(0.3975 0.3840)" font-family="Liberation Sans, sans-serif" font-size="100" fill="#111" stroke="#111" stroke-width="1.41" stroke-linejoin="round">Temperature/</text>
<text transform="translate(671.62 257.11) rotate(-90) scale(0.2911 0.3058)" font-family="Liberation Sans, sans-serif" font-size="100" fill="#111" stroke="#111" stroke-width="1.84" stroke-linejoin="round">o</text>
<text transform="translate(692.05 241.15) rotate(-90) scale(0.3949 0.4132)" font-family="Liberation Sans, sans-serif" font-size="100" fill="#111" stroke="#111" stroke-width="1.36" stroke-linejoin="round">C</text>
<text transform="translate(824.17 256.4) scale(0.9954 0.7650)" font-family="Liberation Serif, sans-serif" font-size="100" font-style="italic" fill="#000">Δ</text>
<text transform="translate(874.13 254.91) scale(0.8118 0.6956)" font-family="Liberation Serif, sans-serif" font-size="100" font-weight="bold" font-style="italic" fill="#000">t</text>
<text transform="translate(906.9 270.46) scale(0.4473 0.4505)" font-family="Liberation Serif, sans-serif" font-size="100" font-style="italic" fill="#000">V,T</text>
<text transform="translate(1012.89 263.76) scale(0.7827 0.7927)" font-family="Liberation Serif, sans-serif" font-size="100" font-weight="bold" fill="#000">15s</text>
<clipPath id="f1c13" clipPathUnits="userSpaceOnUse"><path clip-rule="evenodd" d="M-500 -500H5000V500H-500Z M404.9 -10.2H424.45V4.5H404.9Z M434.36 -10.2H453.11V4.5H434.36Z"/></clipPath>
<text transform="translate(414.1 1149.08) scale(0.7082 0.6820)" font-family="Liberation Sans, sans-serif" font-size="100" fill="#000" stroke="#000" stroke-width="1.01" stroke-linejoin="round" clip-path="url(#f1c13)">V(k)-V(k-1)</text>
<clipPath id="f1c14" clipPathUnits="userSpaceOnUse"><path clip-rule="evenodd" d="M-500 -500H5000V500H-500Z M393.67 -10.21H413.22V4.51H393.67Z M423.13 -10.21H441.88V4.51H423.13Z"/></clipPath>
<text transform="translate(411.88 1234.36) scale(0.7155 0.6694)" font-family="Liberation Sans, sans-serif" font-size="100" fill="#000" stroke="#000" stroke-width="1.01" stroke-linejoin="round" clip-path="url(#f1c14)">T(k)-T(k-1)</text>
<clipPath id="f1c15" clipPathUnits="userSpaceOnUse"><path clip-rule="evenodd" d="M-500 -500H5000V500H-500Z M5.02 -10.18H24.57V4.48H5.02Z M34.43 -10.18H53.18V4.48H34.43Z"/></clipPath>
<text transform="translate(138.82 793.65) scale(0.7270 0.7332)" font-family="Liberation Sans, sans-serif" font-size="100" fill="#000" stroke="#000" stroke-width="0.96" stroke-linejoin="round" clip-path="url(#f1c15)">120</text>
<clipPath id="f1c16" clipPathUnits="userSpaceOnUse"><path clip-rule="evenodd" d="M-500 -500H5000V500H-500Z M5.01 -10.19H24.56V4.49H5.01Z M34.44 -10.19H53.19V4.49H34.44Z"/></clipPath>
<text transform="translate(142.37 907.76) scale(0.7060 0.7330)" font-family="Liberation Sans, sans-serif" font-size="100" fill="#000" stroke="#000" stroke-width="0.97" stroke-linejoin="round" clip-path="url(#f1c16)">100</text>
<text transform="translate(181.63 1021.62) scale(0.7060 0.7330)" font-family="Liberation Sans, sans-serif" font-size="100" fill="#000" stroke="#000" stroke-width="0.97" stroke-linejoin="round">80</text>
<text transform="translate(181.63 1135.48) scale(0.7060 0.7330)" font-family="Liberation Sans, sans-serif" font-size="100" fill="#000" stroke="#000" stroke-width="0.97" stroke-linejoin="round">60</text>
<text transform="translate(181.63 1249.34) scale(0.7060 0.7330)" font-family="Liberation Sans, sans-serif" font-size="100" fill="#000" stroke="#000" stroke-width="0.97" stroke-linejoin="round">40</text>
<text transform="translate(181.63 1363.2) scale(0.7060 0.7330)" font-family="Liberation Sans, sans-serif" font-size="100" fill="#000" stroke="#000" stroke-width="0.97" stroke-linejoin="round">20</text>
<text transform="translate(220.89 1477.06) scale(0.7060 0.7330)" font-family="Liberation Sans, sans-serif" font-size="100" fill="#000" stroke="#000" stroke-width="0.97" stroke-linejoin="round">0</text>
<text transform="translate(154.71 1590.47) scale(0.7314 0.7207)" font-family="Liberation Sans, sans-serif" font-size="100" fill="#000" stroke="#000" stroke-width="0.96" stroke-linejoin="round">-20</text>
<text transform="translate(1852.49 793.38) scale(0.7380 0.7193)" font-family="Liberation Sans, sans-serif" font-size="100" fill="#000" stroke="#000" stroke-width="0.96" stroke-linejoin="round">0.5</text>
<text transform="translate(1853.25 907.15) scale(0.7200 0.7200)" font-family="Liberation Sans, sans-serif" font-size="100" fill="#000" stroke="#000" stroke-width="0.97" stroke-linejoin="round">0</text>
<text transform="translate(1853.25 1020.95) scale(0.7200 0.7200)" font-family="Liberation Sans, sans-serif" font-size="100" fill="#000" stroke="#000" stroke-width="0.97" stroke-linejoin="round">-0.5</text>
<clipPath id="f1c17" clipPathUnits="userSpaceOnUse"><path clip-rule="evenodd" d="M-500 -500H5000V500H-500Z M38.31 -10.19H57.86V4.49H38.31Z M67.74 -10.19H86.49V4.49H67.74Z"/></clipPath>
<text transform="translate(1853.25 1135.31) scale(0.7200 0.7200)" font-family="Liberation Sans, sans-serif" font-size="100" fill="#000" stroke="#000" stroke-width="0.97" stroke-linejoin="round" clip-path="url(#f1c17)">-1</text>
<clipPath id="f1c18" clipPathUnits="userSpaceOnUse"><path clip-rule="evenodd" d="M-500 -500H5000V500H-500Z M38.31 -10.19H57.86V4.49H38.31Z M67.74 -10.19H86.49V4.49H67.74Z"/></clipPath>
<text transform="translate(1853.25 1248.55) scale(0.7200 0.7200)" font-family="Liberation Sans, sans-serif" font-size="100" fill="#000" stroke="#000" stroke-width="0.97" stroke-linejoin="round" clip-path="url(#f1c18)">-1.5</text>
<text transform="translate(1853.25 1362.91) scale(0.7200 0.7200)" font-family="Liberation Sans, sans-serif" font-size="100" fill="#000" stroke="#000" stroke-width="0.97" stroke-linejoin="round">-2</text>
<text transform="translate(1853.25 1476.15) scale(0.7200 0.7200)" font-family="Liberation Sans, sans-serif" font-size="100" fill="#000" stroke="#000" stroke-width="0.97" stroke-linejoin="round">-2.5</text>
<text transform="translate(1853.51 1590.48) scale(0.7341 0.7137)" font-family="Liberation Sans, sans-serif" font-size="100" fill="#000" stroke="#000" stroke-width="0.97" stroke-linejoin="round">-3</text>
<text transform="translate(249.2 1635.9) scale(0.7360 0.7012)" font-family="Liberation Sans, sans-serif" font-size="100" fill="#000" stroke="#000" stroke-width="0.97" stroke-linejoin="round">0</text>
<text transform="translate(575.5 1635.9) scale(0.7365 0.7012)" font-family="Liberation Sans, sans-serif" font-size="100" fill="#000" stroke="#000" stroke-width="0.97" stroke-linejoin="round">0.5</text>
<clipPath id="f1c19" clipPathUnits="userSpaceOnUse"><path clip-rule="evenodd" d="M-500 -500H5000V500H-500Z M5.07 -10.13H24.62V4.43H5.07Z M34.38 -10.13H53.13V4.43H34.38Z"/></clipPath>
<text transform="translate(962.67 1637.8) scale(0.8889 0.7509)" font-family="Liberation Sans, sans-serif" font-size="100" fill="#000" stroke="#000" stroke-width="0.85" stroke-linejoin="round" clip-path="url(#f1c19)">1</text>
<clipPath id="f1c20" clipPathUnits="userSpaceOnUse"><path clip-rule="evenodd" d="M-500 -500H5000V500H-500Z M5.01 -10.19H24.56V4.49H5.01Z M34.44 -10.19H53.19V4.49H34.44Z"/></clipPath>
<text transform="translate(1292.25 1635.9) scale(0.7347 0.7012)" font-family="Liberation Sans, sans-serif" font-size="100" fill="#000" stroke="#000" stroke-width="0.97" stroke-linejoin="round" clip-path="url(#f1c20)">1.5</text>
<text transform="translate(1678.41 1636) scale(0.7872 0.7026)" font-family="Liberation Sans, sans-serif" font-size="100" fill="#000" stroke="#000" stroke-width="0.94" stroke-linejoin="round">2</text>
<text transform="translate(947.98 1708.39) scale(0.7136 0.7107)" font-family="Liberation Sans, sans-serif" font-size="100" fill="#000" stroke="#000" stroke-width="0.98" stroke-linejoin="round">Time/s</text>
<text transform="translate(1688.9 1739.5) scale(0.6140 0.6889)" font-family="Liberation Sans, sans-serif" font-size="100" fill="#000" stroke="#000" stroke-width="1.07" stroke-linejoin="round">x</text>
<clipPath id="f1c21" clipPathUnits="userSpaceOnUse"><path clip-rule="evenodd" d="M-500 -500H5000V500H-500Z M5.02 -10.18H24.57V4.48H5.02Z M34.43 -10.18H53.18V4.48H34.43Z"/></clipPath>
<text transform="translate(1739.06 1738.35) scale(0.7232 0.7346)" font-family="Liberation Sans, sans-serif" font-size="100" fill="#000" stroke="#000" stroke-width="0.96" stroke-linejoin="round" clip-path="url(#f1c21)">10</text>
<text transform="translate(1819.09 1691.87) scale(0.4831 0.4675)" font-family="Liberation Sans, sans-serif" font-size="100" fill="#000" stroke="#000" stroke-width="1.47" stroke-linejoin="round">5</text>
<clipPath id="f1c22" clipPathUnits="userSpaceOnUse"><path clip-rule="evenodd" d="M-500 -500H5000V500H-500Z M393.67 -10.2H413.22V4.5H393.67Z M423.12 -10.2H441.87V4.5H423.12Z"/></clipPath>
<text transform="translate(112.47 1465.44) rotate(-90) scale(0.7287 0.6778)" font-family="Liberation Sans, sans-serif" font-size="100" fill="#000" stroke="#000" stroke-width="1" stroke-linejoin="round" clip-path="url(#f1c22)">T(k)-T(k-1) /</text>
<text transform="translate(76.08 1062.05) rotate(-90) scale(0.5925 0.5227)" font-family="Liberation Sans, sans-serif" font-size="100" fill="#000" stroke="#000" stroke-width="1.26" stroke-linejoin="round">o</text>
<text transform="translate(112.11 1032.48) rotate(-90) scale(0.7430 0.6957)" font-family="Liberation Sans, sans-serif" font-size="100" fill="#000" stroke="#000" stroke-width="0.97" stroke-linejoin="round">C</text>
<text transform="translate(84.42 980) rotate(-90) scale(0.4571 0.4000)" font-family="Liberation Sans, sans-serif" font-size="100" fill="#000" stroke="#000" stroke-width="1.63" stroke-linejoin="round">·</text>
<text transform="translate(112.86 963.72) rotate(-90) scale(0.7194 0.6684)" font-family="Liberation Sans, sans-serif" font-size="100" fill="#000" stroke="#000" stroke-width="1.01" stroke-linejoin="round">s</text>
<text transform="translate(81 927.84) rotate(-90) scale(0.4932 0.6720)" font-family="Liberation Sans, sans-serif" font-size="100" fill="#000" stroke="#000" stroke-width="1.2" stroke-linejoin="round">-</text>
<clipPath id="f1c23" clipPathUnits="userSpaceOnUse"><path clip-rule="evenodd" d="M-500 -500H5000V500H-500Z M4.95 -10.25H24.5V4.55H4.95Z M34.5 -10.25H53.25V4.55H34.5Z"/></clipPath>
<text transform="translate(76.3 914.18) rotate(-90) scale(0.6955 0.5788)" font-family="Liberation Sans, sans-serif" font-size="100" fill="#000" stroke="#000" stroke-width="1.1" stroke-linejoin="round" clip-path="url(#f1c23)">1</text>
<clipPath id="f1c24" clipPathUnits="userSpaceOnUse"><path clip-rule="evenodd" d="M-500 -500H5000V500H-500Z M404.91 -10.19H424.46V4.49H404.91Z M434.35 -10.19H453.1V4.49H434.35Z"/></clipPath>
<text transform="translate(2072.08 1447.5) rotate(-90) scale(0.7120 0.7050)" font-family="Liberation Sans, sans-serif" font-size="100" fill="#000" stroke="#000" stroke-width="0.99" stroke-linejoin="round" clip-path="url(#f1c24)">V(k)-V(k-1) / V</text>
<text transform="translate(2042.62 993.5) rotate(-90) scale(0.4571 0.4000)" font-family="Liberation Sans, sans-serif" font-size="100" fill="#000" stroke="#000" stroke-width="1.63" stroke-linejoin="round">·</text>
<text transform="translate(2071.78 976.6) rotate(-90) scale(0.7018 0.6507)" font-family="Liberation Sans, sans-serif" font-size="100" fill="#000" stroke="#000" stroke-width="1.04" stroke-linejoin="round">s</text>
<text transform="translate(2032.5 942.28) rotate(-90) scale(0.5685 0.4160)" font-family="Liberation Sans, sans-serif" font-size="100" fill="#000" stroke="#000" stroke-width="1.42" stroke-linejoin="round">-</text>
<clipPath id="f1c25" clipPathUnits="userSpaceOnUse"><path clip-rule="evenodd" d="M-500 -500H5000V500H-500Z M4.91 -10.29H24.46V4.59H4.91Z M34.54 -10.29H53.29V4.59H34.54Z"/></clipPath>
<text transform="translate(2034.6 924.97) rotate(-90) scale(0.6214 0.5660)" font-family="Liberation Sans, sans-serif" font-size="100" fill="#000" stroke="#000" stroke-width="1.18" stroke-linejoin="round" clip-path="url(#f1c25)">1</text>
<clipPath id="f1c26" clipPathUnits="userSpaceOnUse"><path clip-rule="evenodd" d="M-500 -500H5000V500H-500Z M404.42 -10.68H423.97V4.98H404.42Z M434.83 -10.68H453.58V4.98H434.83Z"/></clipPath>
<text transform="translate(930.5 1145.49) scale(0.2868 0.2749)" font-family="Liberation Sans, sans-serif" font-size="100" fill="#111" stroke="#111" stroke-width="1.96" stroke-linejoin="round" clip-path="url(#f1c26)">V(k)-V(k-1)</text>
<clipPath id="f1c27" clipPathUnits="userSpaceOnUse"><path clip-rule="evenodd" d="M-500 -500H5000V500H-500Z M393.19 -10.68H412.74V4.98H393.19Z M423.6 -10.68H442.35V4.98H423.6Z"/></clipPath>
<text transform="translate(930.05 1179.49) scale(0.2863 0.2749)" font-family="Liberation Sans, sans-serif" font-size="100" fill="#111" stroke="#111" stroke-width="1.96" stroke-linejoin="round" clip-path="url(#f1c27)">T(k)-T(k-1)</text>
<clipPath id="f1c28" clipPathUnits="userSpaceOnUse"><path clip-rule="evenodd" d="M-500 -500H5000V500H-500Z M4.48 -10.72H24.03V5.02H4.48Z M34.97 -10.72H53.72V5.02H34.97Z"/></clipPath>
<text transform="translate(826.06 1005.17) scale(0.2649 0.2727)" font-family="Liberation Sans, sans-serif" font-size="100" fill="#111" stroke="#111" stroke-width="2.05" stroke-linejoin="round" clip-path="url(#f1c28)">120</text>
<clipPath id="f1c29" clipPathUnits="userSpaceOnUse"><path clip-rule="evenodd" d="M-500 -500H5000V500H-500Z M4.45 -10.75H24V5.05H4.45Z M35 -10.75H53.75V5.05H35Z"/></clipPath>
<text transform="translate(826.54 1050.05) scale(0.2620 0.2640)" font-family="Liberation Sans, sans-serif" font-size="100" fill="#111" stroke="#111" stroke-width="2.09" stroke-linejoin="round" clip-path="url(#f1c29)">100</text>
<text transform="translate(841.11 1094.91) scale(0.2620 0.2640)" font-family="Liberation Sans, sans-serif" font-size="100" fill="#111" stroke="#111" stroke-width="2.09" stroke-linejoin="round">80</text>
<text transform="translate(841.11 1139.79) scale(0.2620 0.2640)" font-family="Liberation Sans, sans-serif" font-size="100" fill="#111" stroke="#111" stroke-width="2.09" stroke-linejoin="round">60</text>
<text transform="translate(841.11 1184.65) scale(0.2620 0.2640)" font-family="Liberation Sans, sans-serif" font-size="100" fill="#111" stroke="#111" stroke-width="2.09" stroke-linejoin="round">40</text>
<text transform="translate(841.11 1229.53) scale(0.2620 0.2640)" font-family="Liberation Sans, sans-serif" font-size="100" fill="#111" stroke="#111" stroke-width="2.09" stroke-linejoin="round">20</text>
<text transform="translate(855.68 1274.39) scale(0.2620 0.2640)" font-family="Liberation Sans, sans-serif" font-size="100" fill="#111" stroke="#111" stroke-width="2.09" stroke-linejoin="round">0</text>
<text transform="translate(832.39 1319.27) scale(0.2620 0.2640)" font-family="Liberation Sans, sans-serif" font-size="100" fill="#111" stroke="#111" stroke-width="2.09" stroke-linejoin="round">-20</text>
<text transform="translate(1501.17 1004.99) scale(0.2650 0.2150)" font-family="Liberation Sans, sans-serif" font-size="100" fill="#111" stroke="#111" stroke-width="2.29" stroke-linejoin="round">0.5</text>
<text transform="translate(1501.17 1049.86) scale(0.2650 0.2150)" font-family="Liberation Sans, sans-serif" font-size="100" fill="#111" stroke="#111" stroke-width="2.29" stroke-linejoin="round">0</text>
<text transform="translate(1501.17 1094.73) scale(0.2650 0.2150)" font-family="Liberation Sans, sans-serif" font-size="100" fill="#111" stroke="#111" stroke-width="2.29" stroke-linejoin="round">-0.5</text>
<clipPath id="f1c30" clipPathUnits="userSpaceOnUse"><path clip-rule="evenodd" d="M-500 -500H5000V500H-500Z M37.65 -10.85H57.2V5.15H37.65Z M68.4 -10.85H87.15V5.15H68.4Z"/></clipPath>
<text transform="translate(1501.17 1139.77) scale(0.2650 0.2150)" font-family="Liberation Sans, sans-serif" font-size="100" fill="#111" stroke="#111" stroke-width="2.29" stroke-linejoin="round" clip-path="url(#f1c30)">-1</text>
<clipPath id="f1c31" clipPathUnits="userSpaceOnUse"><path clip-rule="evenodd" d="M-500 -500H5000V500H-500Z M37.65 -10.85H57.2V5.15H37.65Z M68.4 -10.85H87.15V5.15H68.4Z"/></clipPath>
<text transform="translate(1501.17 1184.47) scale(0.2650 0.2150)" font-family="Liberation Sans, sans-serif" font-size="100" fill="#111" stroke="#111" stroke-width="2.29" stroke-linejoin="round" clip-path="url(#f1c31)">-1.5</text>
<text transform="translate(1501.17 1229.51) scale(0.2650 0.2150)" font-family="Liberation Sans, sans-serif" font-size="100" fill="#111" stroke="#111" stroke-width="2.29" stroke-linejoin="round">-2</text>
<text transform="translate(1501.17 1274.21) scale(0.2650 0.2150)" font-family="Liberation Sans, sans-serif" font-size="100" fill="#111" stroke="#111" stroke-width="2.29" stroke-linejoin="round">-2.5</text>
<text transform="translate(1501.17 1319.08) scale(0.2650 0.2150)" font-family="Liberation Sans, sans-serif" font-size="100" fill="#111" stroke="#111" stroke-width="2.29" stroke-linejoin="round">-3</text>
<clipPath id="f1c32" clipPathUnits="userSpaceOnUse"><path clip-rule="evenodd" d="M-500 -500H5000V500H-500Z M4.52 -10.68H24.07V4.98H4.52Z M34.93 -10.68H53.68V4.98H34.93Z"/></clipPath>
<text transform="translate(832.89 1339.45) scale(0.2721 0.2908)" font-family="Liberation Sans, sans-serif" font-size="100" fill="#111" stroke="#111" stroke-width="1.95" stroke-linejoin="round" clip-path="url(#f1c32)">1.8966</text>
<clipPath id="f1c33" clipPathUnits="userSpaceOnUse"><path clip-rule="evenodd" d="M-500 -500H5000V500H-500Z M4.52 -10.68H24.07V4.98H4.52Z M34.93 -10.68H53.68V4.98H34.93Z"/></clipPath>
<text transform="translate(957.98 1339.45) scale(0.2731 0.2908)" font-family="Liberation Sans, sans-serif" font-size="100" fill="#111" stroke="#111" stroke-width="1.95" stroke-linejoin="round" clip-path="url(#f1c33)">1.8968</text>
<clipPath id="f1c34" clipPathUnits="userSpaceOnUse"><path clip-rule="evenodd" d="M-500 -500H5000V500H-500Z M4.52 -10.68H24.07V4.98H4.52Z M34.93 -10.68H53.68V4.98H34.93Z"/></clipPath>
<text transform="translate(1090.2 1339.45) scale(0.2709 0.2908)" font-family="Liberation Sans, sans-serif" font-size="100" fill="#111" stroke="#111" stroke-width="1.96" stroke-linejoin="round" clip-path="url(#f1c34)">1.897</text>
<clipPath id="f1c35" clipPathUnits="userSpaceOnUse"><path clip-rule="evenodd" d="M-500 -500H5000V500H-500Z M4.52 -10.68H24.07V4.98H4.52Z M34.93 -10.68H53.68V4.98H34.93Z"/></clipPath>
<text transform="translate(1206.28 1339.45) scale(0.2731 0.2908)" font-family="Liberation Sans, sans-serif" font-size="100" fill="#111" stroke="#111" stroke-width="1.95" stroke-linejoin="round" clip-path="url(#f1c35)">1.8972</text>
<clipPath id="f1c36" clipPathUnits="userSpaceOnUse"><path clip-rule="evenodd" d="M-500 -500H5000V500H-500Z M4.52 -10.68H24.07V4.98H4.52Z M34.93 -10.68H53.68V4.98H34.93Z"/></clipPath>
<text transform="translate(1331.89 1339.45) scale(0.2716 0.2908)" font-family="Liberation Sans, sans-serif" font-size="100" fill="#111" stroke="#111" stroke-width="1.96" stroke-linejoin="round" clip-path="url(#f1c36)">1.8974</text>
<clipPath id="f1c37" clipPathUnits="userSpaceOnUse"><path clip-rule="evenodd" d="M-500 -500H5000V500H-500Z M4.53 -10.67H24.08V4.97H4.53Z M34.92 -10.67H53.67V4.97H34.92Z"/></clipPath>
<text transform="translate(1457.33 1339.45) scale(0.2782 0.2908)" font-family="Liberation Sans, sans-serif" font-size="100" fill="#111" stroke="#111" stroke-width="1.93" stroke-linejoin="round" clip-path="url(#f1c37)">1.8976</text>
<text transform="translate(1147.29 1365.62) scale(0.2637 0.2440)" font-family="Liberation Sans, sans-serif" font-size="100" fill="#111" stroke="#111" stroke-width="2.17" stroke-linejoin="round">Time/s</text>
<text transform="translate(1436.6 1375.5) scale(0.2080 0.1976)" font-family="Liberation Sans, sans-serif" font-size="100" fill="#111" stroke="#111" stroke-width="2.71" stroke-linejoin="round">x</text>
<clipPath id="f1c38" clipPathUnits="userSpaceOnUse"><path clip-rule="evenodd" d="M-500 -500H5000V500H-500Z M4.59 -10.61H24.14V4.91H4.59Z M34.86 -10.61H53.61V4.91H34.86Z"/></clipPath>
<text transform="translate(1448 1375.04) scale(0.3127 0.2950)" font-family="Liberation Sans, sans-serif" font-size="100" fill="#111" stroke="#111" stroke-width="1.81" stroke-linejoin="round" clip-path="url(#f1c38)">10</text>
<text transform="translate(1484.95 1354.05) scale(0.1755 0.1628)" font-family="Liberation Sans, sans-serif" font-size="100" fill="#111" stroke="#111" stroke-width="3.25" stroke-linejoin="round">5</text>
<clipPath id="f1c39" clipPathUnits="userSpaceOnUse"><path clip-rule="evenodd" d="M-500 -500H5000V500H-500Z M393.07 -10.8H412.62V5.1H393.07Z M423.73 -10.8H442.48V5.1H423.73Z"/></clipPath>
<text transform="translate(812 1268.84) rotate(-90) scale(0.2827 0.2151)" font-family="Liberation Sans, sans-serif" font-size="100" fill="#111" stroke="#111" stroke-width="2.21" stroke-linejoin="round" clip-path="url(#f1c39)">T(k)-T(k-1) /</text>
<text transform="translate(796.74 1110.36) rotate(-90) scale(0.2106 0.1653)" font-family="Liberation Sans, sans-serif" font-size="100" fill="#111" stroke="#111" stroke-width="2.93" stroke-linejoin="round">o</text>
<text transform="translate(812.95 1097.49) rotate(-90) scale(0.3184 0.2268)" font-family="Liberation Sans, sans-serif" font-size="100" fill="#111" stroke="#111" stroke-width="2.02" stroke-linejoin="round">C</text>
<text transform="translate(813.67 1075.37) rotate(-90) scale(0.2166 0.2133)" font-family="Liberation Sans, sans-serif" font-size="100" fill="#111" stroke="#111" stroke-width="2.56" stroke-linejoin="round">·s</text>
<clipPath id="f1c40" clipPathUnits="userSpaceOnUse"><path clip-rule="evenodd" d="M-500 -500H5000V500H-500Z M37.24 -11.26H56.79V5.56H37.24Z M68.81 -11.26H87.56V5.56H68.81Z"/></clipPath>
<text transform="translate(799 1055.83) rotate(-90) scale(0.2653 0.0882)" font-family="Liberation Sans, sans-serif" font-size="100" fill="#111" stroke="#111" stroke-width="3.11" stroke-linejoin="round" clip-path="url(#f1c40)">-1</text>
<clipPath id="f1c41" clipPathUnits="userSpaceOnUse"><path clip-rule="evenodd" d="M-500 -500H5000V500H-500Z M212.82 -10.78H232.37V5.08H212.82Z M243.42 -10.78H262.17V5.08H243.42Z"/></clipPath>
<text transform="translate(1492.95 1254.9) rotate(-90) scale(0.2807 0.2308)" font-family="Liberation Sans, sans-serif" font-size="100" fill="#111" stroke="#111" stroke-width="2.15" stroke-linejoin="round" clip-path="url(#f1c41)">V(k+1)-V(k) / V·s</text>
<clipPath id="f1c42" clipPathUnits="userSpaceOnUse"><path clip-rule="evenodd" d="M-500 -500H5000V500H-500Z M37.41 -11.09H56.96V5.39H37.41Z M68.64 -11.09H87.39V5.39H68.64Z"/></clipPath>
<text transform="translate(1481 1043.83) rotate(-90) scale(0.2669 0.1294)" font-family="Liberation Sans, sans-serif" font-size="100" fill="#111" stroke="#111" stroke-width="2.78" stroke-linejoin="round" clip-path="url(#f1c42)">-1</text>
<clipPath id="f1c43" clipPathUnits="userSpaceOnUse"><path clip-rule="evenodd" d="M-500 -500H5000V500H-500Z M404.29 -10.81H423.84V5.11H404.29Z M434.96 -10.81H453.71V5.11H434.96Z"/></clipPath>
<text transform="translate(1587.41 1264) rotate(-90) scale(0.2726 0.2235)" font-family="Liberation Sans, sans-serif" font-size="100" fill="#111" stroke="#111" stroke-width="2.22" stroke-linejoin="round" clip-path="url(#f1c43)">V(k)-V(k-1) / V·s</text>
<clipPath id="f1c44" clipPathUnits="userSpaceOnUse"><path clip-rule="evenodd" d="M-500 -500H5000V500H-500Z M37.38 -11.12H56.93V5.42H37.38Z M68.67 -11.12H87.42V5.42H68.67Z"/></clipPath>
<text transform="translate(1576.5 1066.8) rotate(-90) scale(0.2575 0.1294)" font-family="Liberation Sans, sans-serif" font-size="100" fill="#111" stroke="#111" stroke-width="2.84" stroke-linejoin="round" clip-path="url(#f1c44)">-1</text>
<rect x="649.5" y="496.1" width="85.8" height="86.7" fill="#fff" stroke="#111" stroke-width="3.6"/>
<circle cx="679.3" cy="528.2" r="17.2" fill="none" stroke="#111" stroke-width="4.4"/>
<circle cx="679.3" cy="528.2" r="14.9" fill="#f0f0f0"/>
<path d="M694.5 542.5 L718.5 564.5" stroke="#111" stroke-width="8" stroke-linecap="round"/>
<polygon points="701.8,519.1 712.3,518.5 712.7,508.83 715.9,508.83 716.3,518.5 726.8,519.1 726.8,522.3 716.3,522.9 715.9,532.58 712.7,532.58 712.3,522.9 701.8,522.3" fill="#222"/>
<rect x="762.9" y="1318" width="83.6" height="82" fill="#fff" stroke="#111" stroke-width="3.6"/>
<circle cx="792.2" cy="1350.4" r="17" fill="none" stroke="#111" stroke-width="4.4"/>
<circle cx="792.2" cy="1350.4" r="14.7" fill="#f0f0f0"/>
<path d="M807.2 1364 L831 1386" stroke="#111" stroke-width="8" stroke-linecap="round"/>
<polygon points="814.5,1341.4 825,1340.8 825.4,1331.12 828.6,1331.12 829,1340.8 839.5,1341.4 839.5,1344.6 829,1345.2 828.6,1354.88 825.4,1354.88 825,1345.2 814.5,1344.6" fill="#222"/>
</svg></body></html>
